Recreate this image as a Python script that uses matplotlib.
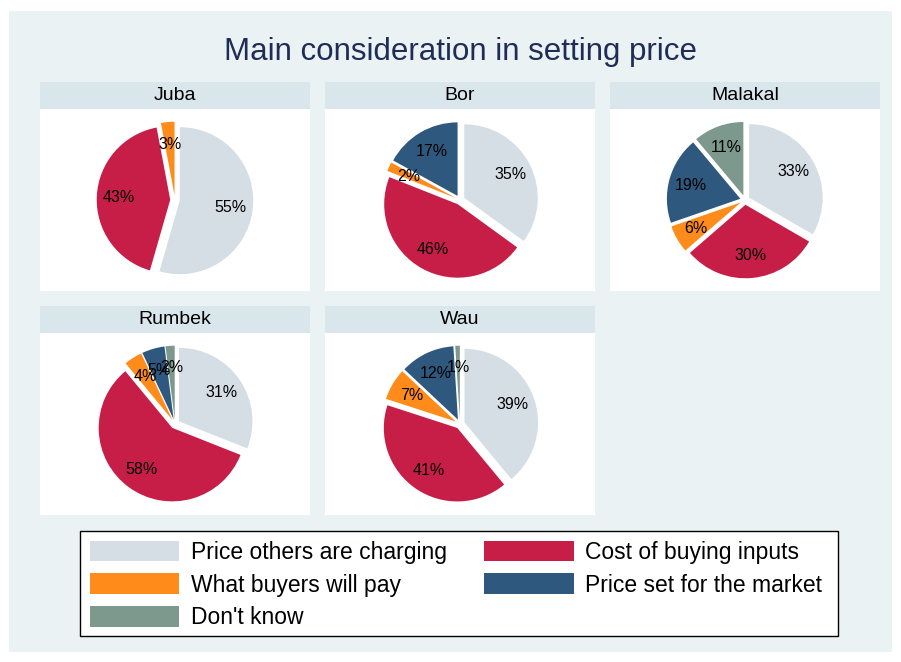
import matplotlib
matplotlib.use('Agg')
import matplotlib.pyplot as plt
from matplotlib.patches import Patch, Rectangle

plt.rcParams['font.family'] = ['Liberation Sans', 'DejaVu Sans']

# data (percent)
regions = ['Juba', 'Bor', 'Malakal', 'Rumbek', 'Wau']
price_others = [55, 35, 33, 31, 39]
cost_inputs = [43, 46, 30, 58, 41]
buyers_pay = [3, 2, 6, 4, 7]
price_set = [0, 17, 19, 5, 12]
dont_know = [0, 0, 11, 2, 1]

categories = ['Price others are charging', 'Cost of buying inputs',
              'What buyers will pay', 'Price set for the market', "Don't know"]
colors = ['#d5dde5', '#c71e47', '#ff8c1a', '#2f587e', '#7d998e']

W, H = 901, 662
fig = plt.figure(figsize=(W / 100, H / 100), dpi=100, facecolor='white')

# graph region background
fig.patches.append(Rectangle((9 / W, 1 - 652 / H), 883 / W, 641 / H,
                             transform=fig.transFigure, facecolor='#eaf2f3',
                             edgecolor='none', zorder=-10))

fig.text(460 / W, 1 - 52 / H, 'Main consideration in setting price',
         ha='center', va='center', fontsize=22.5, color='#1f2d56')

col_x = [40, 325, 610]
row_y = [82, 306]
pw, strip_h, body_h = 270, 27, 182
R = 73.5  # pie radius in px


def px_axes(x, y, w, h):
    return fig.add_axes([x / W, 1 - (y + h) / H, w / W, h / H])


for i, name in enumerate(regions):
    x0 = col_x[i % 3]
    y0 = row_y[i // 3]

    sax = px_axes(x0, y0, pw, strip_h)
    sax.set_facecolor('#d9e6eb')
    sax.set_xticks([])
    sax.set_yticks([])
    for s in sax.spines.values():
        s.set_visible(False)
    sax.text(0.5, 0.5, name, ha='center', va='center', fontsize=14,
             transform=sax.transAxes)

    ax = px_axes(x0, y0 + strip_h, pw, body_h)
    ax.set_facecolor('white')
    vals_all = [price_others[i], cost_inputs[i], buyers_pay[i],
                price_set[i], dont_know[i]]
    vals = [v for v in vals_all if v > 0]
    cols = [c for v, c in zip(vals_all, colors) if v > 0]
    it = iter(vals)
    ax.pie(vals, colors=cols, startangle=90, counterclock=False,
           explode=[0.065] * len(vals), frame=True, pctdistance=0.7,
           autopct=lambda p, it=it: f'{next(it)}%',
           textprops={'fontsize': 11.5, 'color': 'black'},
           wedgeprops={'linewidth': 0})
    ax.set_xlim(-pw / 2 / R, pw / 2 / R)
    ax.set_ylim(-body_h / 2 / R, body_h / 2 / R)
    ax.set_xticks([])
    ax.set_yticks([])
    for s in ax.spines.values():
        s.set_visible(False)

# legend box drawn separately so the entries can sit with Stata-like padding
fig.patches.append(Rectangle((80 / W, 1 - 636 / H), 758 / W, 105 / H,
                             transform=fig.transFigure, facecolor='white',
                             edgecolor='black', linewidth=1.0, zorder=1))

# legend (column-wise fill)
order = [0, 2, 4, 1, 3]
handles = [Patch(facecolor=colors[k], edgecolor='none', label=categories[k])
           for k in order]
leg = fig.legend(handles=handles, ncol=2, loc='center left',
                 bbox_to_anchor=(90 / W, 1 - 633 / H, 732 / W, 96 / H),
                 mode='expand', fontsize=16.5, handlelength=3.9,
                 handleheight=1.0, handletextpad=0.5, labelspacing=0.42,
                 borderaxespad=0, borderpad=0, columnspacing=1.5,
                 frameon=False)
leg.set_zorder(2)

fig.savefig('out.png', dpi=100, facecolor='white')
